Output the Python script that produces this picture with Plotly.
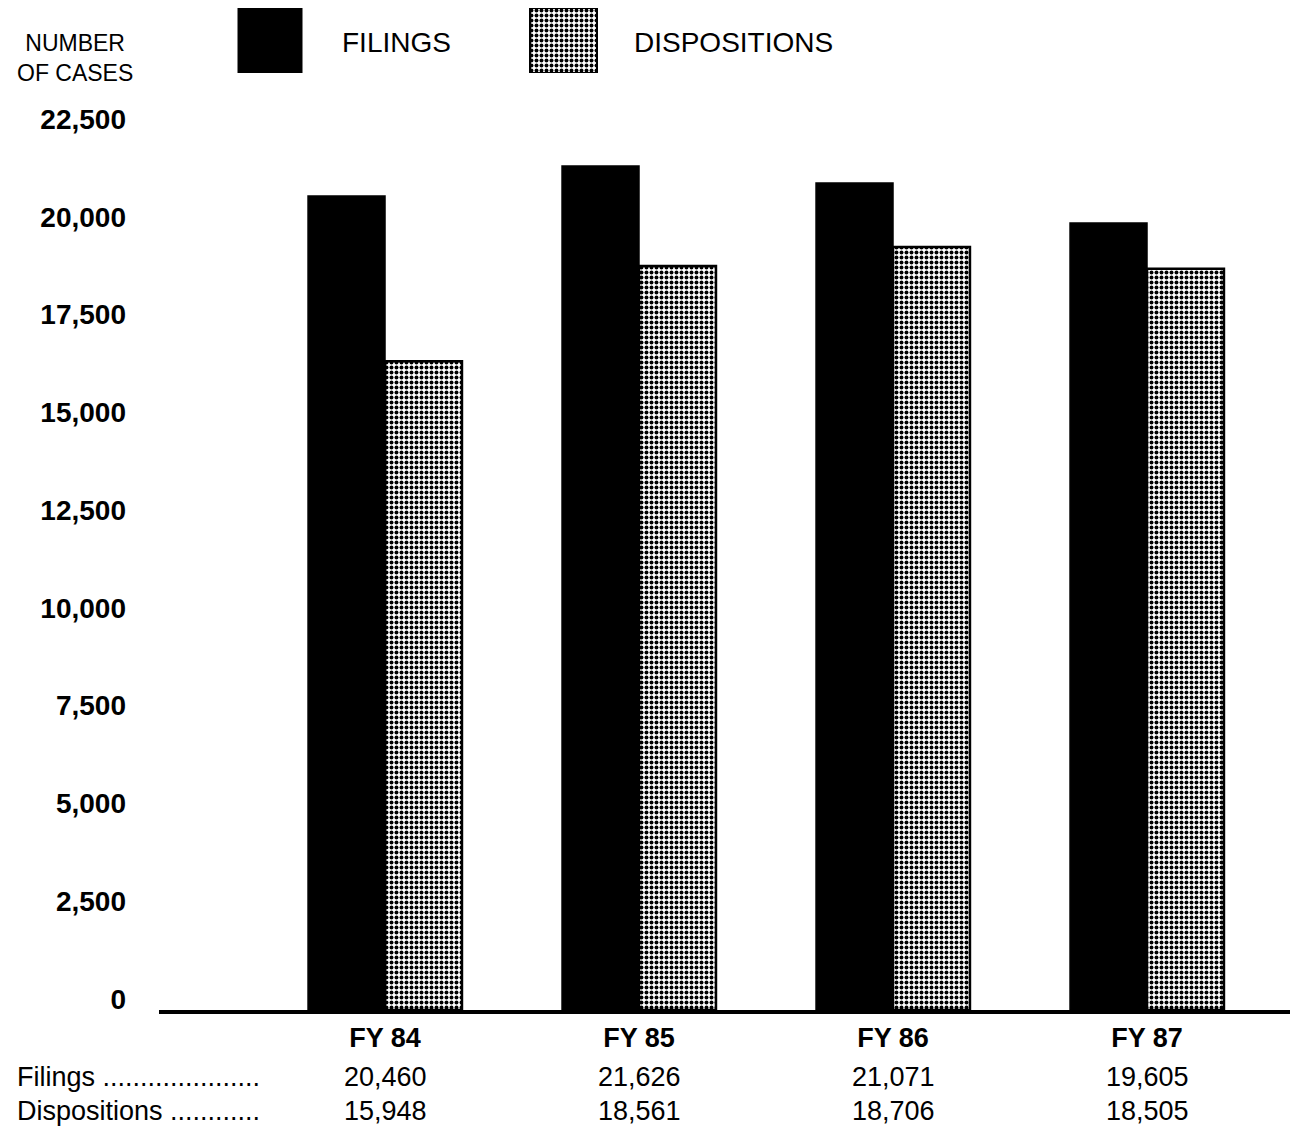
import plotly.graph_objects as go

# ---------------- data ----------------
years = ["FY 84", "FY 85", "FY 86", "FY 87"]
# bar heights as drawn in the picture
bar_filings = [20810, 21580, 21145, 20120]
bar_dispositions = [16590, 19020, 19510, 18950]
# figures printed in the table under the chart
table_filings = [20460, 21626, 21071, 19605]
table_dispositions = [15948, 18561, 18706, 18505]
series_names = ["FILINGS", "DISPOSITIONS"]
row_labels = ["Filings .....................", "Dispositions ............"]
y_tickvals = [0, 2500, 5000, 7500, 10000, 12500, 15000, 17500, 20000, 22500]
y_ticktext = ["0", "2,500", "5,000", "7,500", "10,000", "12,500",
              "15,000", "17,500", "20,000", "22,500"]
y_title = "NUMBER<br>OF CASES"

# ---------------- geometry / style ----------------
W, H = 1292, 1129
L, R, B = 159, 2, 119
plot_h = H - B            # plot area height (t=0)
FONT = "Liberation Sans, Arial, Helvetica, sans-serif"
BAR_W = 0.303

stipple = dict(shape=".", fgcolor="black", bgcolor="white",
               size=5, solidity=0.48, fillmode="replace")

def py(pix):
    """paper y from a pixel row"""
    return (plot_h - pix) / plot_h

def px(pix):
    return (pix - L) / (W - L - R)

x = list(range(len(years)))

fig = go.Figure()
fig.add_trace(go.Bar(
    x=x, y=bar_filings, name=series_names[0], width=BAR_W, offset=-BAR_W,
    marker=dict(color="black", line=dict(color="black", width=1.5)),
    showlegend=False, hoverinfo="skip"))
fig.add_trace(go.Bar(
    x=x, y=bar_dispositions, name=series_names[1], width=BAR_W, offset=0,
    marker=dict(color="white", line=dict(color="black", width=2.5),
                pattern=stipple),
    showlegend=False, hoverinfo="skip"))

# legend keys (drawn on a pixel-unit helper axis)
fig.add_trace(go.Bar(x=[270], y=[1], width=[64], xaxis="x2", yaxis="y2",
                     marker=dict(color="black", line=dict(color="black", width=1)),
                     showlegend=False, hoverinfo="skip"))
fig.add_trace(go.Bar(x=[563.5], y=[1], width=[67], xaxis="x2", yaxis="y2",
                     marker=dict(color="white", line=dict(color="black", width=2),
                                 pattern=stipple),
                     showlegend=False, hoverinfo="skip"))

ann = []
ann.append(dict(text=series_names[0], xref="x2", x=340, yref="paper", y=py(42),
                xanchor="left", yanchor="middle", showarrow=False,
                font=dict(family=FONT, size=28, color="black")))
ann.append(dict(text=series_names[1], xref="x2", x=632, yref="paper", y=py(42),
                xanchor="left", yanchor="middle", showarrow=False,
                font=dict(family=FONT, size=28, color="black")))
ann.append(dict(text=y_title, xref="paper", x=px(75), yref="paper", y=py(58),
                xanchor="center", yanchor="middle", showarrow=False, align="center",
                font=dict(family=FONT, size=23, color="black")))

row_y = [1077, 1111]
for lbl, ry in zip(row_labels, row_y):
    ann.append(dict(text=lbl, xref="paper", x=px(15), yref="paper", y=py(ry),
                    xanchor="left", yanchor="middle", showarrow=False,
                    font=dict(family=FONT, size=27, color="black")))
for i in x:
    for vals, ry in zip([table_filings, table_dispositions], row_y):
        ann.append(dict(text=f"{vals[i]:,}", xref="x", x=i, yref="paper", y=py(ry),
                        xanchor="center", yanchor="middle", showarrow=False,
                        font=dict(family=FONT, size=27, color="black")))

y_top = (plot_h - 100) / (880 / 22500)  # 880 px per 22,500

fig.update_layout(
    width=W, height=H,
    margin=dict(l=L, r=R, t=0, b=B, pad=0),
    paper_bgcolor="white", plot_bgcolor="white",
    barmode="overlay",
    annotations=ann,
    xaxis=dict(domain=[0, 1], range=[-0.8898, 3.563], anchor="y",
               tickvals=x, ticktext=years, ticks="",
               tickfont=dict(family=FONT, size=27, color="black", weight="bold"),
               showline=True, linewidth=4, linecolor="black",
               showgrid=False, zeroline=False, ticklabelstandoff=1),
    yaxis=dict(domain=[0, (plot_h - 100) / plot_h], range=[0, y_top], anchor="x",
               tickvals=y_tickvals, ticktext=y_ticktext, ticks="",
               tickfont=dict(family=FONT, size=28, color="black", weight="bold"),
               showline=False, showgrid=False, zeroline=False,
               ticklabelstandoff=32, ticklabelshift=-11),
    xaxis2=dict(domain=[0, 1], range=[L, W - R], anchor="y2", visible=False),
    yaxis2=dict(domain=[py(73), py(8)], range=[0, 1], anchor="x2", visible=False),
    showlegend=False,
)

fig.write_html("out.html")
